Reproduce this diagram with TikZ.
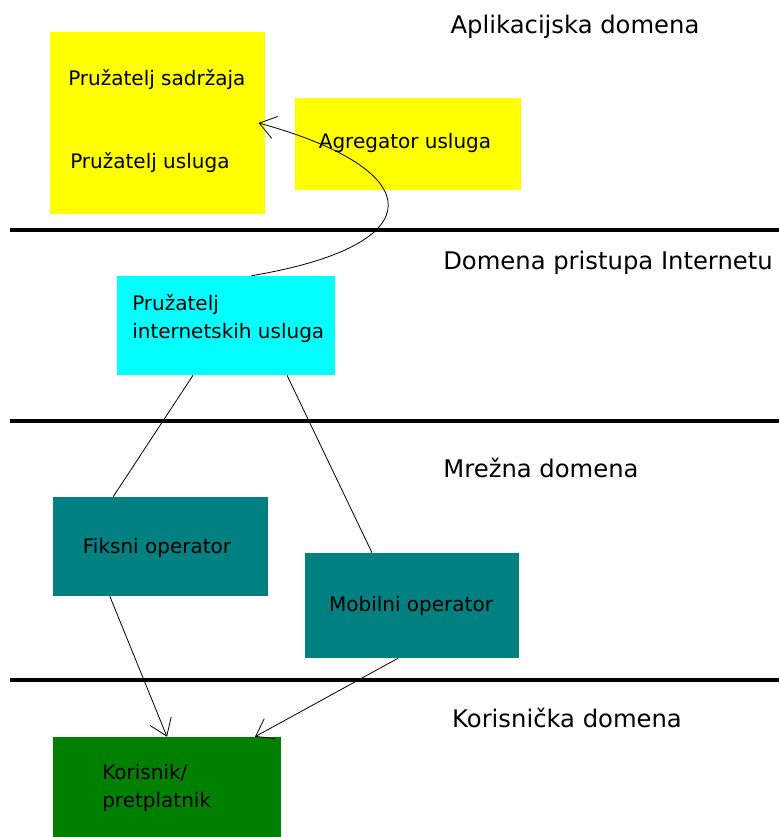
\documentclass[tikz,border=0pt]{standalone}
\usepackage{fontspec}
\setmainfont{DejaVu Sans}
\usetikzlibrary{arrows.meta,fit}
\definecolor{boxyellow}{RGB}{255,255,0}
\definecolor{boxcyan}{RGB}{0,255,255}
\definecolor{boxteal}{RGB}{0,128,128}
\definecolor{boxgreen}{RGB}{0,128,0}

\begin{document}
\begin{tikzpicture}[x=0.75pt,y=-0.75pt,
    box/.style={fit={#1},inner sep=0pt},
    txt/.style={inner sep=0pt,align=left,font=\fontsize{15}{21}\selectfont},
    dom/.style={inner sep=0pt,font=\fontsize{18.2}{22}\selectfont},
    sep/.style={line width=2.8pt},
    conn/.style={line width=0.6pt},
    arr/.style={conn,-{Straight Barb[length=12pt,width=17pt]}}]
  \useasboundingbox (0,0) rectangle (779,837);

  % domain borders
  \draw[sep] (10,230) -- (779,230);
  \draw[sep] (10,421) -- (779,421);
  \draw[sep] (10,680) -- (779,680);

  % domain names
  \node[dom] (app-d) at (575,27)  {Aplikacijska domena};
  \node[dom] (int-d) at (608,263) {Domena pristupa Internetu};
  \node[dom] (mre-d) at (541,468) {Mrežna domena};
  \node[dom] (kor-d) at (567,718) {Korisnička domena};

  % boxes
  \node[box={(50,32) (265,214)},fill=boxyellow]   (yel) {};
  \node[txt,anchor=west] (sadr) at (68,80)  {Pružatelj sadržaja};
  \node[txt,anchor=west] (usl)  at (70,163) {Pružatelj usluga};
  \node[box={(295,98) (521,190)},fill=boxyellow]  (agr) {};
  \node[txt] (agr-t) at (405,143) {Agregator usluga};
  \node[box={(117,276) (335,375)},fill=boxcyan]   (isp) {};
  \node[txt,anchor=west] (isp-t) at (132,319) {Pružatelj\\internetskih usluga};
  \node[box={(53,497) (268,596)},fill=boxteal]    (fix) {};
  \node[txt] (fix-t) at (157,548) {Fiksni operator};
  \node[box={(305,553) (519,658)},fill=boxteal]   (mob) {};
  \node[txt] (mob-t) at (411,606) {Mobilni operator};
  \node[box={(53,737) (281,837)},fill=boxgreen]   (kor) {};
  \node[txt,anchor=west] (kor-t) at (102,788) {Korisnik/\\pretplatnik};

  % links
  \draw[arr] ([xshift=19pt]isp.north) .. controls (435,245) and (430,170) .. ([xshift=-5pt]yel.east);
  \draw[conn] ([xshift=-24.75pt]isp.south) -- ([xshift=-35.5pt]fix.north);
  \draw[conn] ([xshift=45.75pt]isp.south) -- ([xshift=-30pt]mob.north);
  \draw[arr] ([xshift=-38pt]fix.south) -- (kor.north);
  \draw[arr] ([xshift=-10.5pt]mob.south) -- ([xshift=66pt]kor.north);
\end{tikzpicture}
\end{document}
